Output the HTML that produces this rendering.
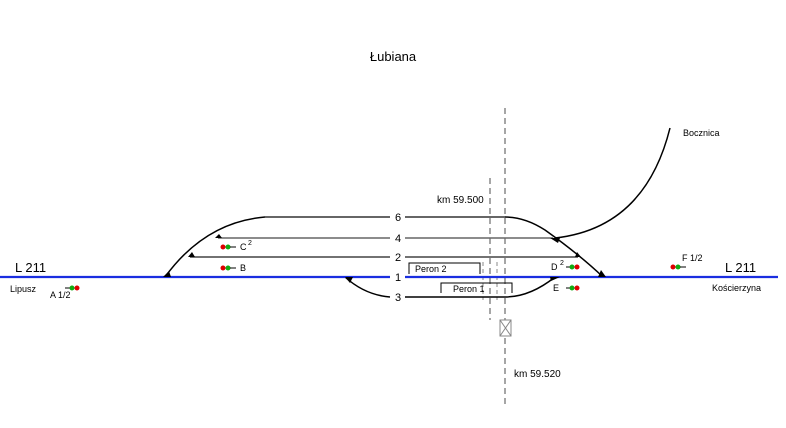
<!DOCTYPE html>
<html><head><meta charset="utf-8"><style>
html,body{margin:0;padding:0;background:#fff;}
svg{display:block;font-family:"Liberation Sans",sans-serif;}
</style></head><body>
<svg width="786" height="428" viewBox="0 0 786 428" xmlns="http://www.w3.org/2000/svg">
<rect width="786" height="428" fill="#fff"/>
<text x="393" y="61" font-size="13" text-anchor="middle">Łubiana</text>
<!-- dashed lines -->
<line x1="505" y1="108" x2="505" y2="405" stroke="#888" stroke-width="1.5" stroke-dasharray="6,4"/>
<line x1="490" y1="178" x2="490" y2="320" stroke="#888" stroke-width="1.5" stroke-dasharray="6,4"/>
<line x1="483" y1="262" x2="483" y2="300" stroke="#888" stroke-width="1" stroke-dasharray="4,3"/>
<line x1="497" y1="262" x2="497" y2="300" stroke="#888" stroke-width="1" stroke-dasharray="4,3"/>
<text x="437" y="203" font-size="10">km  59.500</text>
<text x="514" y="377" font-size="10">km  59.520</text>
<rect x="500" y="320" width="11" height="16" fill="#fff" stroke="#888"/>
<line x1="500" y1="320" x2="511" y2="336" stroke="#888"/><line x1="511" y1="320" x2="500" y2="336" stroke="#888"/>
<!-- tracks -->
<g fill="none" stroke-width="1.5">
<path d="M265 217 H390 M405 217 H505" stroke="#333"/>
<path d="M218 238 H390 M405 238 H553" stroke="#666"/>
<path d="M190 257 H390 M405 257 H578" stroke="#444"/>
<path d="M165 277 Q205 222 265 217" stroke="#000"/>
<path d="M505 217 Q525 217 545 230 Q580 255 603 277" stroke="#000"/>
<path d="M345 277 Q365 295 390 297 M405 297 H505 Q530 297 555 277" stroke="#000"/>
<path d="M555 238 Q645 228 670 128" stroke="#000"/>
<path d="M0 277 H390 M405 277 H778" stroke="#1a2ee0" stroke-width="2.2"/>
<path d="M409 274 V263 H480 V274 M441 293 V283 H512 V293" stroke="#000" stroke-width="1"/>
</g>
<!-- switch markers -->
<g fill="#000">
<polygon points="163,277 171,277 169,271"/>
<polygon points="215,238 222,238 219,234"/>
<polygon points="188,257 195,257 192,252"/>
<polygon points="345,277 353,277 350,283"/>
<polygon points="550,238 560,238 558,243"/>
<polygon points="575,257 581,257 577,252"/>
<polygon points="598,277 606,277 601,270"/>
<polygon points="550,277 560,277 551,281"/>
</g>
<g font-size="11" text-anchor="middle">
<text x="398" y="221">6</text><text x="398" y="242">4</text><text x="398" y="261">2</text>
<text x="398" y="281">1</text><text x="398" y="301">3</text>
</g>
<g font-size="9">
<text x="415" y="272">Peron 2</text><text x="453" y="292">Peron 1</text>
<text x="240" y="250">C</text><text x="248" y="245" font-size="7">2</text>
<text x="240" y="271">B</text>
<text x="551" y="270">D</text><text x="560" y="265" font-size="7">2</text>
<text x="553" y="291">E</text>
<text x="50" y="298">A 1/2</text>
<text x="682" y="261">F 1/2</text>
<text x="683" y="136">Bocznica</text>
<text x="10" y="292">Lipusz</text>
<text x="712" y="291">Kościerzyna</text>
</g>
<text x="15" y="272" font-size="13">L 211</text>
<text x="725" y="272" font-size="13">L 211</text>
<!-- signals -->
<g>
<circle cx="223" cy="247" r="2.5" fill="#d00"/><circle cx="228" cy="247" r="2.5" fill="#1a1"/><line x1="230" y1="247" x2="236" y2="247" stroke="#000"/>
<circle cx="223" cy="268" r="2.5" fill="#d00"/><circle cx="228" cy="268" r="2.5" fill="#1a1"/><line x1="230" y1="268" x2="236" y2="268" stroke="#000"/>
<line x1="566" y1="267" x2="572" y2="267" stroke="#000"/><circle cx="572" cy="267" r="2.5" fill="#1a1"/><circle cx="577" cy="267" r="2.5" fill="#d00"/>
<line x1="566" y1="288" x2="572" y2="288" stroke="#000"/><circle cx="572" cy="288" r="2.5" fill="#1a1"/><circle cx="577" cy="288" r="2.5" fill="#d00"/>
<line x1="65" y1="288" x2="72" y2="288" stroke="#000"/><circle cx="72" cy="288" r="2.5" fill="#1a1"/><circle cx="77" cy="288" r="2.5" fill="#d00"/>
<circle cx="673" cy="267" r="2.5" fill="#d00"/><circle cx="678" cy="267" r="2.5" fill="#1a1"/><line x1="680" y1="267" x2="686" y2="267" stroke="#000"/>
</g>
</svg>
</body></html>
